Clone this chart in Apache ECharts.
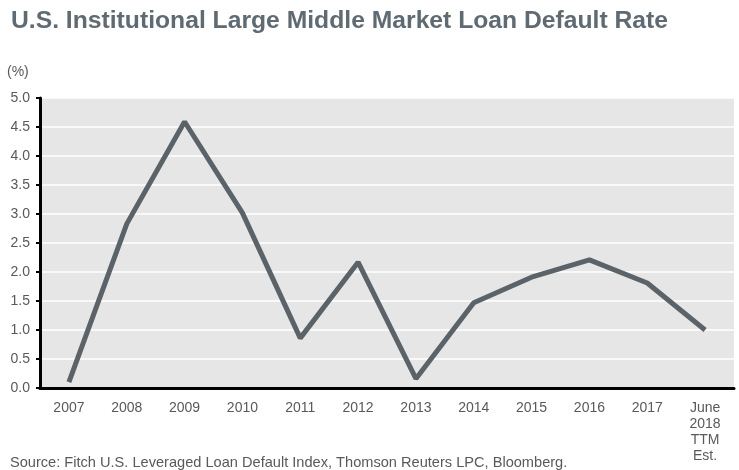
<!DOCTYPE html>
<html>
<head>
<meta charset="utf-8">
<script src="https://cdn.jsdelivr.net/npm/echarts@6/dist/echarts.min.js"></script>
<style>
  html, body { margin: 0; padding: 0; background: #fff; }
  #chart { width: 739px; height: 470px; }
</style>
</head>
<body>
<div id="chart"></div>
<script>
// data
var categories = ['2007', '2008', '2009', '2010', '2011', '2012', '2013', '2014', '2015', '2016', '2017', 'June\n2018\nTTM\nEst.'];
var defaultRate = [0.10, 2.83, 4.59, 3.02, 0.86, 2.17, 0.16, 1.47, 1.91, 2.21, 1.81, 1.00];

var textGray = '#595959';
var chart = echarts.init(document.getElementById('chart'));

chart.setOption({
  backgroundColor: '#fff',
  animation: false,
  textStyle: { fontFamily: 'Liberation Sans, Arial, sans-serif' },
  title: [{
    text: 'U.S. Institutional Large Middle Market Loan Default Rate',
    left: 6, top: 4,
    textStyle: { fontSize: 24.7, fontWeight: 'bold', color: '#5f6a72', fontFamily: 'Liberation Sans, Arial, sans-serif' }
  }, {
    text: 'Source: Fitch U.S. Leveraged Loan Default Index, Thomson Reuters LPC, Bloomberg.',
    left: 5, top: 450,
    textStyle: { fontSize: 14.6, fontWeight: 'normal', color: textGray, fontFamily: 'Liberation Sans, Arial, sans-serif' }
  }],
  grid: {
    left: 40, right: 5, top: 98, bottom: 82,
    show: true, backgroundColor: '#e6e6e6', borderWidth: 0
  },
  xAxis: {
    type: 'category',
    data: categories,
    boundaryGap: true,
    axisLine: { lineStyle: { color: '#000', width: 3 } },
    axisTick: { show: false },
    axisLabel: { color: textGray, fontSize: 14, margin: 12, lineHeight: 16, interval: 0 }
  },
  yAxis: {
    type: 'value',
    name: '(%)',
    nameLocation: 'end',
    nameGap: 19,
    nameTextStyle: { color: textGray, fontSize: 14, align: 'left', padding: [0, 0, 0, -33] },
    min: 0, max: 5, interval: 0.5,
    axisLine: { show: true, lineStyle: { color: '#000', width: 3 } },
    axisTick: { show: true, length: 4, lineStyle: { color: '#000', width: 2 } },
    axisLabel: { color: textGray, fontSize: 14, margin: 10, formatter: function (v) { return v.toFixed(1); } },
    splitLine: { lineStyle: { color: '#fff', width: 1.5 } }
  },
  series: [{
    type: 'line',
    data: defaultRate,
    symbol: 'none',
    lineStyle: { color: '#5b6369', width: 5 }
  }]
});
</script>
</body>
</html>
